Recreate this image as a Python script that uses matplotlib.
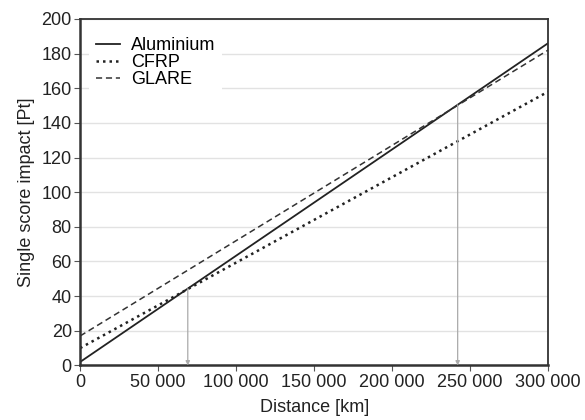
import matplotlib
matplotlib.use('Agg')
import matplotlib.pyplot as plt
from matplotlib.ticker import FuncFormatter

plt.rcParams['font.family'] = ['Liberation Sans', 'DejaVu Sans']

# Data
distance = [0, 300000]
aluminium = [2, 186]
cfrp = [10, 158]
glare = [17, 182]

# break-even points (distance, impact)
break_x = [69000, 242000]
break_y = [44.3, 150.4]

fig, ax = plt.subplots(figsize=(5.85, 4.2), dpi=100)
fig.subplots_adjust(left=0.137, right=0.937, top=0.955, bottom=0.13)

ax.plot(distance, aluminium, color='#222222', linestyle='-', linewidth=1.3, label='Aluminium')
ax.plot(distance, cfrp, color='#222222', linestyle=(0, (1, 1.6)), linewidth=1.8, label='CFRP')
ax.plot(distance, glare, color='#333333', linestyle=(0, (4, 2.5)), linewidth=1.1, label='GLARE')

# arrows from break-even points down to the axis
for bx, by in zip(break_x, break_y):
    ax.annotate('', xy=(bx, 0), xytext=(bx, by),
                arrowprops=dict(arrowstyle='-|>', color='#aaaaaa', lw=0.9,
                                mutation_scale=6, shrinkA=0, shrinkB=0))

ax.set_xlim(0, 300000)
ax.set_ylim(0, 200)
ax.set_xticks(range(0, 300001, 50000))
ax.set_yticks(range(0, 201, 20))
ax.xaxis.set_major_formatter(FuncFormatter(lambda v, p: f'{int(v):,}'.replace(',', ' ')))
ax.tick_params(labelsize=13, direction='out', length=4, color='#555555', labelcolor='#222222')
ax.tick_params(axis='x', pad=2)
ax.tick_params(axis='y', pad=2)

ax.grid(axis='y', color='#e2e2e2', linewidth=1.0)
ax.set_axisbelow(True)
for side in ['left', 'bottom']:
    ax.spines[side].set_linewidth(1.8)
    ax.spines[side].set_color('#333333')
for side in ['top', 'right']:
    ax.spines[side].set_linewidth(1.3)
    ax.spines[side].set_color('#333333')

ax.set_xlabel('Distance [km]', fontsize=13, color='#222222', labelpad=6)
ax.set_ylabel('Single score impact [Pt]', fontsize=13, color='#222222', labelpad=5)

leg = ax.legend(loc='upper left', frameon=True, fontsize=13, handlelength=1.3,
                labelspacing=0.0, borderpad=0.4, handletextpad=0.6,
                bbox_to_anchor=(0.0, 0.995))
leg.get_frame().set_edgecolor('none')
leg.get_frame().set_facecolor('white')
leg.get_frame().set_alpha(1)

plt.savefig('out.png', dpi=100)
